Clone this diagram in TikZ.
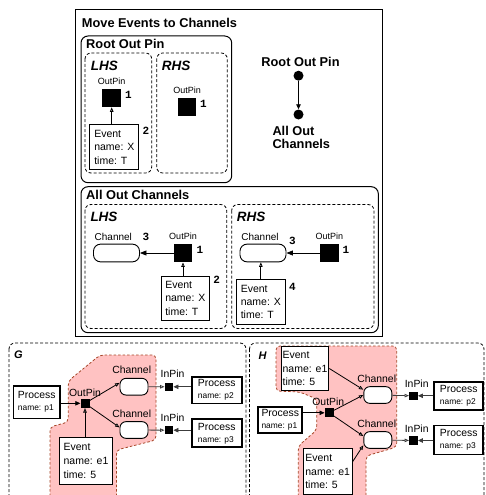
\documentclass[tikz,border=0pt]{standalone}
\usepackage{fontspec}
\setmainfont{Liberation Sans}
\setmonofont{Liberation Mono}
\usetikzlibrary{arrows.meta}
\newcommand{\setfs}[2]{\fontsize{#1}{#2}\selectfont}
\definecolor{rulefill}{RGB}{255,194,194}
\definecolor{ruleedge}{RGB}{165,70,40}
\definecolor{wire}{RGB}{60,60,60}

\begin{document}
\begin{tikzpicture}[x=1pt,y=-1pt,
  every node/.style={inner sep=0pt},
  frame/.style={draw, line width=0.9pt},
  group/.style={draw, line width=1pt, rounded corners=7pt},
  sidebox/.style={draw, line width=0.8pt, dash pattern=on 3pt off 2pt, rounded corners=6pt},
  ttl/.style={font=\bfseries\setfs{12.8}{13.3}, anchor=base west},
  sidettl/.style={font=\bfseries\itshape\setfs{13.5}{15}, anchor=base west},
  lbl/.style={font=\setfs{9}{10}},
  glbl/.style={font=\setfs{10.4}{12}},
  num/.style={font=\ttfamily\bfseries\setfs{11}{12}},
  bigpin/.style={fill=black, minimum size=18.5pt},
  pin/.style={fill=black, minimum size=9pt},
  dot/.style={circle, fill=black, minimum size=10pt},
  chan/.style={draw, fill=white, line width=0.9pt, rounded corners=7pt, minimum width=46pt, minimum height=17.7pt},
  schan/.style={draw, fill=white, line width=0.9pt, rounded corners=6pt, minimum width=28pt, minimum height=16.7pt},
  evt/.style={draw, fill=white, line width=1pt, anchor=north west, align=left, font=\setfs{10.5}{13.3}},
  proc/.style={draw, fill=white, line width=1.7pt, align=left, font=\setfs{10.4}{12}},
  fillarr/.style={-{Triangle[length=6.5pt,width=5pt]}, line width=0.8pt},
  sfillarr/.style={-{Triangle[length=5pt,width=4.5pt]}, line width=0.8pt},
  openarr/.style={-{Triangle[open,length=4.5pt,width=3.5pt,fill=white]}, line width=0.8pt},
  region/.style={fill=rulefill, draw=ruleedge, line width=0.8pt, dash pattern=on 2.5pt off 2pt, rounded corners=4pt},
]
\useasboundingbox (0,0) rectangle (486,495);
\clip (0,0) rectangle (486,495);

% ---------------- rule: Move Events to Channels ----------------
\draw[frame] (75.7,9) rectangle (382.7,336.5);
\node[ttl] (mtitle) at (81.7,27.3) {Move Events to Channels};

% sub-rule: Root Out Pin
\draw[group] (81,36) rectangle (231.7,182.7);
\node[ttl] (rtitle) at (86,48.3) {Root Out Pin};
\draw[sidebox] (85,53) rectangle (151.7,173);
\draw[sidebox] (156.7,53) rectangle (227.3,173);
\node[sidettl] (rlhs) at (90.7,70.7) {LHS};
\node[sidettl] (rrhs) at (161.7,70.7) {RHS};

\node[bigpin] (r1) at (111.7,97.8) {};
\node[lbl] (r1l) at (111.7,81.7) {OutPin};
\node[num] (r1n) at (128.3,95) {1};
\node[evt, minimum width=49pt, minimum height=45pt] (r2) at (89.3,124.3) {Event\\name: X\\time: T};
\node[num] (r2n) at (146,131.3) {2};
\draw[openarr] (r1 |- r2.north) -- (r1.south);

\node[bigpin] (s1) at (187.2,106.8) {};
\node[lbl] (s1l) at (187.2,90.7) {OutPin};
\node[num] (s1n) at (203.3,104) {1};

% control flow between sub-rules
\node[dot] (ctop) at (298.5,75.7) {};
\node[dot] (cbot) at (298.5,114.5) {};
\draw[sfillarr] (ctop) -- (cbot);
\node[ttl, anchor=base] (ctopl) at (300.5,66.7) {Root Out Pin};
\node[ttl, anchor=north west, align=left] (cbotl) at (272.3,126) {All Out\\Channels};

% sub-rule: All Out Channels
\draw[group] (81,186.7) rectangle (378.3,332.7);
\node[ttl] (atitle) at (86,199.3) {All Out Channels};
\draw[sidebox] (85,204.5) rectangle (226.7,328.5);
\draw[sidebox] (231.7,204.5) rectangle (374,328.5);
\node[sidettl] (alhs) at (90.3,221.7) {LHS};
\node[sidettl] (arhs) at (236.7,221.7) {RHS};

\node[chan] (a3) at (116.5,253) {};
\node[lbl, font=\setfs{10}{11}] (a3l) at (113.3,236.5) {Channel};
\node[num] (a3n) at (146,236.7) {3};
\node[bigpin] (a1) at (183,253) {};
\node[lbl] (a1l) at (183,236.5) {OutPin};
\node[num] (a1n) at (200,250) {1};
\node[evt, minimum width=48.3pt, minimum height=44.3pt] (a2) at (160.7,275.7) {Event\\name: X\\time: T};
\node[num] (a2n) at (216.7,280) {2};
\draw[fillarr] (a1) -- (a3);
\draw[openarr] (a1 |- a2.north) -- (a1.south);

\node[chan] (b3) at (263,253) {};
\node[lbl, font=\setfs{10}{11}] (b3l) at (260,236.5) {Channel};
\node[num] (b3n) at (292.3,241) {3};
\node[bigpin] (b1) at (329.3,253) {};
\node[lbl] (b1l) at (329.3,236.5) {OutPin};
\node[num] (b1n) at (346,250) {1};
\node[evt, minimum width=49.3pt, minimum height=45pt] (b4) at (235.7,279) {Event\\name: X\\time: T};
\node[num] (b4n) at (292.3,286.7) {4};
\draw[fillarr] (b1) -- (b3);
\draw[openarr] (b4.north) -- (b4.north |- b3.south);

% ---------------- graph G ----------------
\draw[sidebox] (9,343) rectangle (246,520);
\node[sidettl, font=\bfseries\itshape\setfs{11}{12}] (gname) at (14,358.3) {G};
\draw[region] (50,505) -- (50,427) -- (68.3,422) -- (68.3,381) -- (100,355)
  -- (156,355) -- (156,440) -- (116.5,450) -- (116.5,505);

\node[proc, minimum width=46.7pt, minimum height=32.3pt] (gp1) at (36.7,402.2) {Process\\{\setfs{8.4}{12}name: p1}};
\node[pin] (gout) at (85,403.3) {};
\node[glbl] (goutl) at (85,392.3) {OutPin};
\node[schan] (gc1) at (134,386.7) {};
\node[glbl] (gc1l) at (131.7,369.3) {Channel};
\node[schan] (gc2) at (134,430) {};
\node[glbl] (gc2l) at (131.7,413.3) {Channel};
\node[pin, minimum size=8.5pt] (gi1) at (169,386.8) {};
\node[glbl] (gi1l) at (172.5,373.3) {InPin};
\node[pin, minimum size=8.5pt] (gi2) at (169,430.2) {};
\node[glbl] (gi2l) at (172.5,417.7) {InPin};
\node[proc, minimum width=50pt, minimum height=26.7pt] (gp2) at (216.7,390) {Process\\{\setfs{8.4}{12}name: p2}};
\node[proc, minimum width=50pt, minimum height=28pt] (gp3) at (216.7,433.3) {Process\\{\setfs{8.4}{12}name: p3}};
\node[evt, minimum width=52.4pt, minimum height=47.3pt, font=\setfs{10.5}{14.2}] (gev) at (59.3,436.7) {Event\\name: e1\\time: 5};

\draw[sfillarr] (gp1.east |- gout) -- (gout);
\draw[openarr] (gout) -- (gc1.165);
\draw[openarr] (gout) -- (gc2.170);
\draw[openarr] (gout |- gev.north) -- (gout.south);
\draw[openarr, draw=wire] (gc1) -- (gi1);
\draw[openarr, draw=wire] (gc2) -- (gi2);
\draw[sfillarr, draw=wire, fill=wire] (gi1 -| gp2.west) -- (gi1);
\draw[sfillarr, draw=wire, fill=wire] (gi2 -| gp3.west) -- (gi2);

% ---------------- graph H ----------------
\draw[sidebox] (249.5,343) rectangle (484,520);
\node[sidettl, font=\bfseries\itshape\setfs{11}{12}] (hname) at (258.5,359) {H};
\draw[region] (298.3,505) -- (298.3,446) -- (316.7,430) -- (316.7,399) -- (300,392)
  -- (276,391) -- (276,346) -- (396.7,346) -- (396.7,447) -- (366,456) -- (366,505);

\node[evt, minimum width=47.6pt, minimum height=44pt] (hev1) at (280.7,346) {Event\\name: e1\\time: 5};
\node[schan] (hc1) at (377.8,395) {};
\node[glbl] (hc1l) at (376.7,378.3) {Channel};
\node[pin] (hout) at (329.2,412.8) {};
\node[glbl] (houtl) at (328.3,401.7) {OutPin};
\node[proc, minimum width=44pt, minimum height=26.6pt] (hp1) at (280.3,420) {Process\\{\setfs{8.4}{12}name: p1}};
\node[schan] (hc2) at (377.8,440) {};
\node[glbl] (hc2l) at (376.7,423.3) {Channel};
\node[pin, minimum size=8.5pt] (hi1) at (413.5,395.8) {};
\node[glbl] (hi1l) at (416.7,383.3) {InPin};
\node[pin, minimum size=8.5pt] (hi2) at (413.5,440.5) {};
\node[glbl] (hi2l) at (416.7,428.3) {InPin};
\node[proc, minimum width=49pt, minimum height=28pt] (hp2) at (458.7,396) {Process\\{\setfs{8.4}{12}name: p2}};
\node[proc, minimum width=49pt, minimum height=29pt] (hp3) at (458.7,440) {Process\\{\setfs{8.4}{12}name: p3}};
\node[evt, minimum width=49pt, minimum height=45.7pt] (hev2) at (302.7,448.3) {Event\\name: e1\\time: 5};

\draw[openarr] (hev1.east) -- (hc1.160);
\draw[sfillarr] (hp1.east |- hout) -- (hout);
\draw[openarr] (hout) -- (hc1.west);
\draw[openarr] (hout) -- (hc2.165);
\draw[openarr] (hev2.22) -- (hc2.200);
\draw[openarr, draw=wire] (hc1) -- (hi1);
\draw[openarr, draw=wire] (hc2) -- (hi2);
\draw[sfillarr, draw=wire, fill=wire] (hi1 -| hp2.west) -- (hi1);
\draw[sfillarr, draw=wire, fill=wire] (hi2 -| hp3.west) -- (hi2);
\end{tikzpicture}
\end{document}
